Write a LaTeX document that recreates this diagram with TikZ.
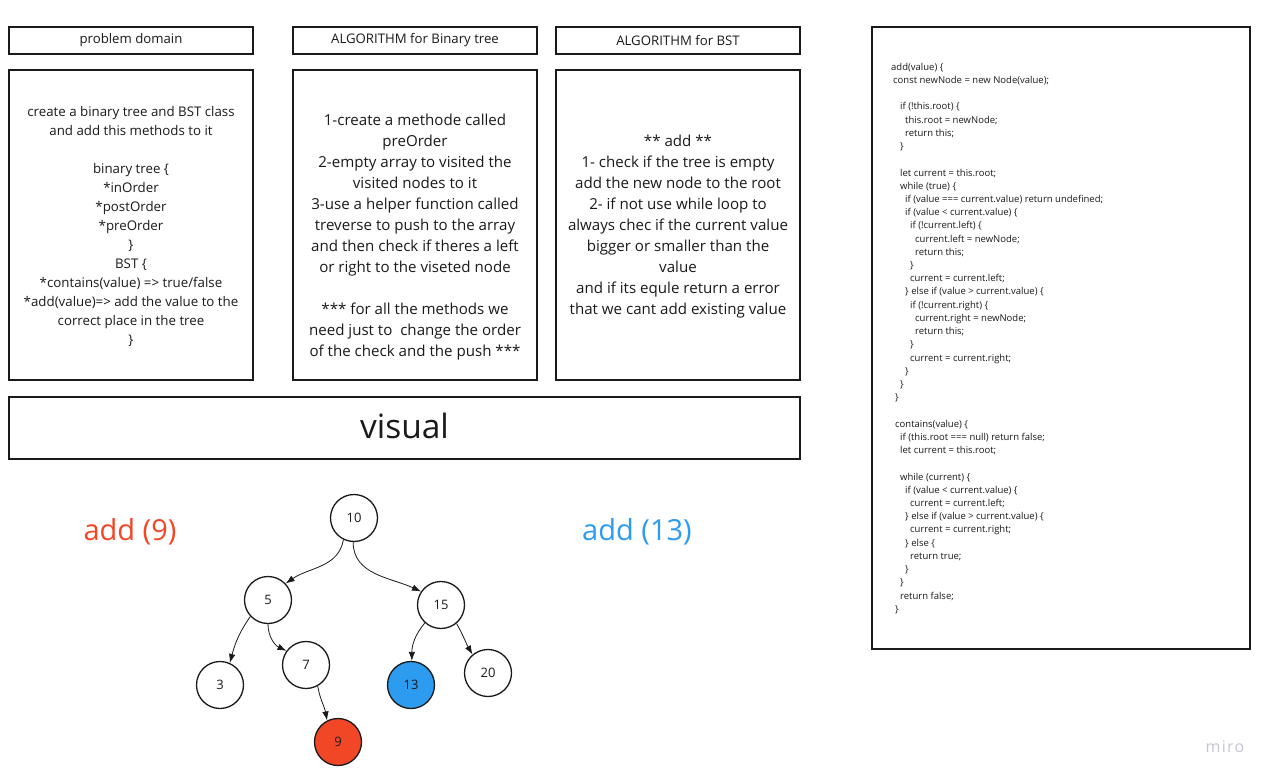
\documentclass[tikz,border=0pt]{standalone}
\usepackage{fontspec}
\setmainfont{Open Sans}
\usetikzlibrary{arrows.meta}
\definecolor{ink}{HTML}{1A1A1A}
\definecolor{mred}{HTML}{F24726}
\definecolor{mblue}{HTML}{2D9BF0}
\definecolor{wm}{HTML}{C6C6D2}
\newcommand\codeln[4]{\node[codetxt] (#1) at (#2,{-68-13.22*#3}) {#4};}
\begin{document}
\begin{tikzpicture}[x=1pt,y=1pt,
  box/.style={draw=ink,line width=1.4pt,fill=white,rectangle,inner sep=0pt},
  codetxt/.style={anchor=west,inner sep=0pt,text height=6.5pt,text depth=2pt,font=\fontsize{9.5}{11}\selectfont,text=ink},
  hdr/.style={font=\fontsize{13.2}{16}\selectfont,text=ink},
  bodyA/.style={align=center,font=\fontsize{13.3}{19}\selectfont,text=ink},
  bodyB/.style={align=center,font=\fontsize{15.1}{21}\selectfont,text=ink},
  tn/.style={circle,draw=ink,line width=1.3pt,fill=white,minimum size=47pt,inner sep=0pt,font=\fontsize{13}{15}\selectfont,text=ink},
  edge/.style={draw=ink,line width=0.8pt,-{Latex[length=9pt,width=6.5pt]}}
]
\useasboundingbox[fill=white] (0,0) rectangle (1276,-783);

% headers
\node[box,hdr,minimum width=244pt,minimum height=27pt] (h1) at (131,-40.5) {problem domain};
\node[box,hdr,minimum width=244pt,minimum height=27pt] (h2) at (415,-40.5) {ALGORITHM for Binary tree};
\node[box,hdr,minimum width=244pt,minimum height=27pt] (h3) at (678,-40.5) {ALGORITHM for BST};

% content boxes
\node[box,minimum width=244pt,minimum height=310pt] (b1) at (131,-225) {};
\node[box,minimum width=244pt,minimum height=310pt] (b2) at (415,-225) {};
\node[box,minimum width=244pt,minimum height=310pt] (b3) at (678,-225) {};

\node[bodyA] (t1) at (131,-226) {create a binary tree and BST class\\
and add this methods to it\\ \mbox{}\\
binary tree \{\\ *inOrder\\ *postOrder\\ *preOrder\\ \}\\ BST \{\\
*contains(value) => true/false\\
*add(value)=> add the value to the\\
correct place in the tree\\ \}};

\node[bodyB] (t2) at (415,-237) {1-create a methode called\\ preOrder\\
2-empty array to visited the\\ visited nodes to it\\
3-use a helper function called\\ treverse to push to the array\\
and then check if theres a left\\ or right to the viseted node\\ \mbox{}\\
*** for all the methods we\\ need just to\ \ change the order\\
of the check and the push ***};

\node[bodyB] (t3) at (678,-227) {** add **\\
1- check if the tree is empty\\ add the new node to the root\\
2- if not use while loop to\\ always chec if the current value\\
bigger or smaller than the\\ value\\
and if its equle return a error\\ that we cant add existing value};

% visual bar
\node[box,minimum width=791pt,minimum height=62pt] (vis) at (404.5,-428) {};
\node[font=\fontsize{33.5}{36}\selectfont,text=ink] (vist) at (404.5,-426) {visual};

% labels
\node[font=\fontsize{29}{32}\selectfont,text=mred] (l9) at (130,-532) {add (9)};
\node[font=\fontsize{29}{32}\selectfont,text=mblue] (l13) at (637,-532) {add (13)};

% tree
\node[tn] (n10) at (354,-518) {10};
\node[tn] (n5) at (268,-600) {5};
\node[tn] (n15) at (441,-605) {15};
\node[tn] (n3) at (220,-685) {3};
\node[tn] (n7) at (306,-665) {7};
\node[tn,fill=mblue] (n13) at (411,-685) {13};
\node[tn] (n20) at (488,-673) {20};
\node[tn,fill=mred] (n9) at (338,-742) {9};

\draw[edge] (n10.-116) to[out=-100,in=35] (n5.43);
\draw[edge] (n10.-92) to[out=-90,in=155] (n15.146);
\draw[edge] (n5.-137) to[out=-125,in=75] (n3.66);
\draw[edge] (n5.-90) to[out=-90,in=155] (n7.144);
\draw[edge] (n7.-61) to[out=-80,in=100] (n9.117);
\draw[edge] (n15.-132) to[out=-130,in=90] (n13.88);
\draw[edge] (n15.-50) to[out=-60,in=120] (n20.130);

% code box
\node[box,line width=1.4pt,minimum width=378pt,minimum height=622pt] (code) at (1061,-338) {};
\codeln{c0}{891}{0}{add(value) \{}
\codeln{c1}{893}{1}{const newNode = new Node(value);}
\codeln{c3}{900}{3}{if (!this.root) \{}
\codeln{c4}{905}{4}{this.root = newNode;}
\codeln{c5}{905}{5}{return this;}
\codeln{c6}{900}{6}{\}}
\codeln{c8}{900}{8}{let current = this.root;}
\codeln{c9}{900}{9}{while (true) \{}
\codeln{c10}{905}{10}{if (value === current.value) return undefined;}
\codeln{c11}{905}{11}{if (value < current.value) \{}
\codeln{c12}{910}{12}{if (!current.left) \{}
\codeln{c13}{915}{13}{current.left = newNode;}
\codeln{c14}{915}{14}{return this;}
\codeln{c15}{910}{15}{\}}
\codeln{c16}{910}{16}{current = current.left;}
\codeln{c17}{905}{17}{\} else if (value > current.value) \{}
\codeln{c18}{910}{18}{if (!current.right) \{}
\codeln{c19}{915}{19}{current.right = newNode;}
\codeln{c20}{915}{20}{return this;}
\codeln{c21}{910}{21}{\}}
\codeln{c22}{910}{22}{current = current.right;}
\codeln{c23}{905}{23}{\}}
\codeln{c24}{900}{24}{\}}
\codeln{c25}{895}{25}{\}}
\codeln{c27}{895}{27}{contains(value) \{}
\codeln{c28}{900}{28}{if (this.root === null) return false;}
\codeln{c29}{900}{29}{let current = this.root;}
\codeln{c31}{900}{31}{while (current) \{}
\codeln{c32}{905}{32}{if (value < current.value) \{}
\codeln{c33}{910}{33}{current = current.left;}
\codeln{c34}{905}{34}{\} else if (value > current.value) \{}
\codeln{c35}{910}{35}{current = current.right;}
\codeln{c36}{905}{36}{\} else \{}
\codeln{c37}{910}{37}{return true;}
\codeln{c38}{905}{38}{\}}
\codeln{c39}{900}{39}{\}}
\codeln{c40}{900}{40}{return false;}
\codeln{c41}{895}{41}{\}}

% watermark
\node[font=\fontsize{16}{18}\selectfont\addfontfeatures{LetterSpace=8},text=wm] (miro) at (1225,-747) {miro};
\end{tikzpicture}
\end{document}
